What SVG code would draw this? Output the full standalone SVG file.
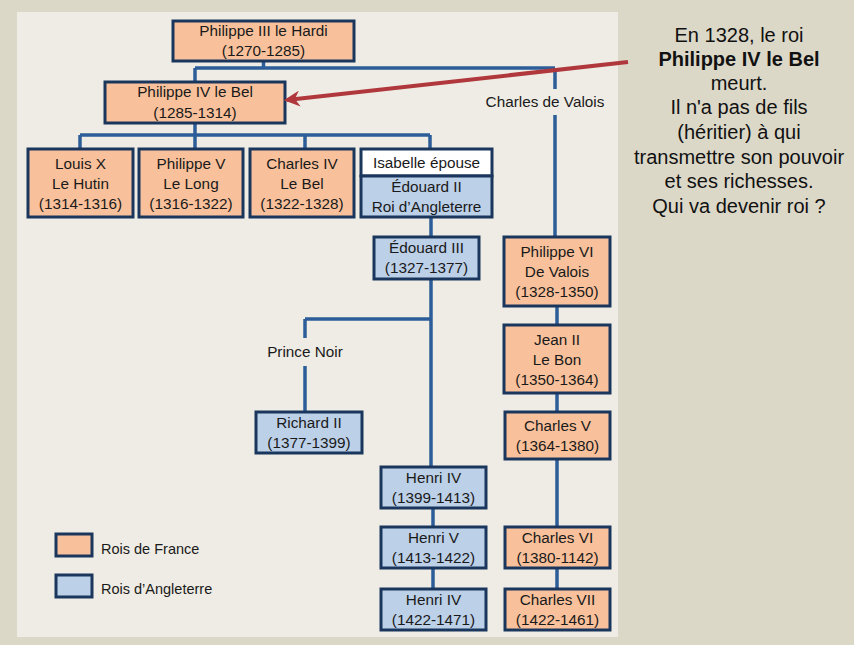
<svg xmlns="http://www.w3.org/2000/svg" width="854" height="645" viewBox="0 0 854 645">
<defs>
<style>
.fr{fill:#f9c19b;stroke:#1b365d;stroke-width:3}
.en{fill:#bcd0e8;stroke:#1b365d;stroke-width:3}
.wh{fill:#ffffff;stroke:#1b365d;stroke-width:3}
.t{font-family:"Liberation Sans",Arial,sans-serif;font-size:15.3px;fill:#1a1a1a;text-anchor:middle}
.lg{font-family:"Liberation Sans",Arial,sans-serif;font-size:14.5px;fill:#1a1a1a}
.side{font-family:"Liberation Sans",Arial,sans-serif;font-size:20px;fill:#111;text-anchor:middle}
.c{fill:none;stroke:#2d5d98;stroke-width:3.5}
</style>
<marker id="ah" viewBox="0 0 10 10" refX="8" refY="5" markerWidth="4" markerHeight="4" orient="auto" markerUnits="strokeWidth">
<path d="M0,0 L10,5 L0,10 L3,5 z" fill="#b0383d"/>
</marker>
</defs>
<rect x="0" y="0" width="854" height="645" fill="#dcd8c8"/>
<rect x="17" y="12" width="601" height="625" fill="#eeece4"/>

<g id="connectors">
<path class="c" d="M263.5,61 V68 M195,68 H555 M195,68 V82 M555,68 V89 M555,115 V237"/>
<path class="c" d="M195,123 V135 M80,135 H430 M80,135 V149 M195,135 V149 M305,135 V149 M430,135 V149"/>
<path class="c" d="M431,217 V237 M431,279 V467 M305,319 H431 M305,319 V338 M305,366 V412"/>
<path class="c" d="M557,306 V325 M557,393 V412 M557,459 V527 M557,568 V589"/>
<path class="c" d="M433,508 V527 M433,568 V589"/>
<text class="t" x="545" y="107">Charles de Valois</text>
<text class="t" x="305" y="357">Prince Noir</text>
</g>

<g id="philippe3"><rect class="fr" x="173" y="21" width="181" height="40"/><text class="t" x="263.5" y="36">Philippe III le Hardi</text><text class="t" x="263.5" y="56">(1270-1285)</text></g>
<g id="philippe4"><rect class="fr" x="105" y="82" width="180" height="41"/><text class="t" x="195" y="97">Philippe IV le Bel</text><text class="t" x="195" y="118">(1285-1314)</text></g>
<g id="louis10"><rect class="fr" x="28" y="149" width="105" height="68"/><text class="t" x="80.5" y="169">Louis X</text><text class="t" x="80.5" y="189">Le Hutin</text><text class="t" x="80.5" y="209">(1314-1316)</text></g>
<g id="philippe5"><rect class="fr" x="139" y="149" width="104" height="68"/><text class="t" x="191" y="169">Philippe V</text><text class="t" x="191" y="189">Le Long</text><text class="t" x="191" y="209">(1316-1322)</text></g>
<g id="charles4"><rect class="fr" x="250" y="149" width="104" height="68"/><text class="t" x="302" y="169">Charles IV</text><text class="t" x="302" y="189">Le Bel</text><text class="t" x="302" y="209">(1322-1328)</text></g>
<g id="edouard2"><rect class="wh" x="361" y="149" width="131" height="27"/><rect class="en" x="361" y="176" width="131" height="41"/><text class="t" x="426.5" y="168">Isabelle épouse</text><text class="t" x="426.5" y="192">Édouard II</text><text class="t" x="426.5" y="212">Roi d’Angleterre</text></g>
<g id="edouard3"><rect class="en" x="374" y="237" width="105" height="42"/><text class="t" x="426.5" y="253">Édouard III</text><text class="t" x="426.5" y="273">(1327-1377)</text></g>
<g id="richard2"><rect class="en" x="256" y="412" width="106" height="41"/><text class="t" x="309" y="428">Richard II</text><text class="t" x="309" y="448">(1377-1399)</text></g>
<g id="henri4a"><rect class="en" x="381" y="467" width="105" height="41"/><text class="t" x="433.5" y="483">Henri IV</text><text class="t" x="433.5" y="503">(1399-1413)</text></g>
<g id="henri5"><rect class="en" x="381" y="527" width="105" height="41"/><text class="t" x="433.5" y="543">Henri V</text><text class="t" x="433.5" y="563">(1413-1422)</text></g>
<g id="henri4b"><rect class="en" x="381" y="589" width="105" height="41"/><text class="t" x="433.5" y="605">Henri IV</text><text class="t" x="433.5" y="625">(1422-1471)</text></g>
<g id="philippe6"><rect class="fr" x="504" y="237" width="106" height="69"/><text class="t" x="557" y="257">Philippe VI</text><text class="t" x="557" y="277">De Valois</text><text class="t" x="557" y="297">(1328-1350)</text></g>
<g id="jean2"><rect class="fr" x="504" y="325" width="106" height="68"/><text class="t" x="557" y="345">Jean II</text><text class="t" x="557" y="365">Le Bon</text><text class="t" x="557" y="385">(1350-1364)</text></g>
<g id="charles5"><rect class="fr" x="505" y="412" width="105" height="47"/><text class="t" x="557.5" y="431">Charles V</text><text class="t" x="557.5" y="451">(1364-1380)</text></g>
<g id="charles6"><rect class="fr" x="505" y="527" width="105" height="41"/><text class="t" x="557.5" y="543">Charles VI</text><text class="t" x="557.5" y="563">(1380-1142)</text></g>
<g id="charles7"><rect class="fr" x="505" y="589" width="105" height="41"/><text class="t" x="557.5" y="605">Charles VII</text><text class="t" x="557.5" y="625">(1422-1461)</text></g>

<g id="legend">
<rect class="fr" x="56" y="534" width="36" height="22" stroke-width="2.5"/>
<text class="lg" x="101" y="554">Rois de France</text>
<rect class="en" x="56" y="575" width="36" height="22" stroke-width="2.5"/>
<text class="lg" x="101" y="594">Rois d’Angleterre</text>
</g>

<g id="note">
<text class="side" x="739" y="42">En 1328, le roi</text>
<text class="side" x="739" y="66" font-weight="bold">Philippe IV le Bel</text>
<text class="side" x="739" y="90">meurt.</text>
<text class="side" x="739" y="114">Il n'a pas de fils</text>
<text class="side" x="739" y="139">(héritier) à qui</text>
<text class="side" x="739" y="164">transmettre son pouvoir</text>
<text class="side" x="739" y="188">et ses richesses.</text>
<text class="side" x="739" y="213">Qui va devenir roi ?</text>
</g>

<g id="arrow">
<line x1="628" y1="62" x2="287" y2="100" stroke="#b0383d" stroke-width="4" marker-end="url(#ah)"/>
</g>
</svg>
